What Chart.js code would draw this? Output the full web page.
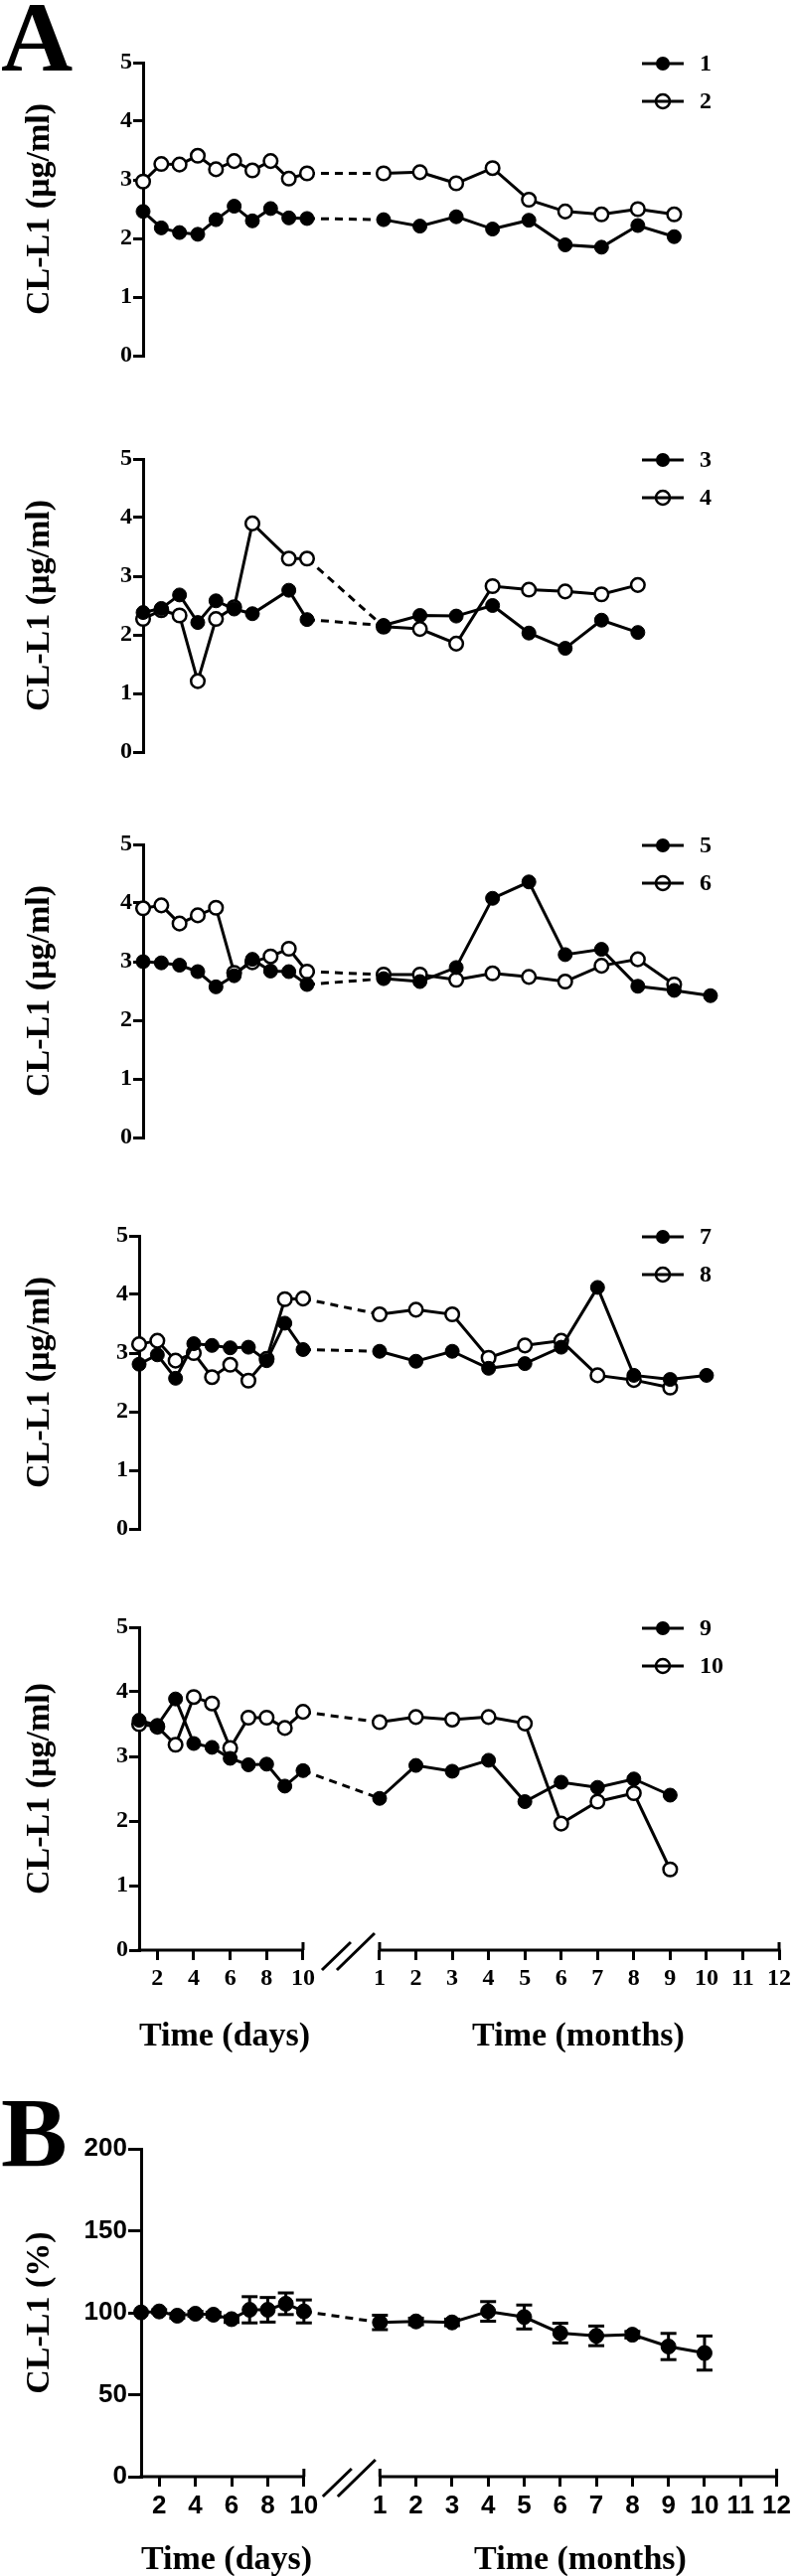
<!DOCTYPE html>
<html>
<head>
<meta charset="utf-8">
<script src="https://cdn.jsdelivr.net/npm/chart.js@4.4.1/dist/chart.umd.min.js"></script>
<style>
  html, body { margin: 0; padding: 0; background: #fff; }
  #wrap { position: relative; width: 800px; height: 2593px; overflow: hidden; }
  #wrap canvas { position: absolute; left: 0; }
  .letter { position: absolute; left: 1px; font: bold 100px "Liberation Serif", serif; line-height: 1; }
</style>
</head>
<body>
<div id="wrap">
  <div class="letter" style="top:-12px">A</div>
  <div class="letter" style="top:2097px">B</div>
</div>
<script>
// time points
const DAYS = [1, 2, 3, 4, 5, 6, 7, 8, 9, 10];
const MONTHS = [1, 2, 3, 4, 5, 6, 7, 8, 9, 10];
const DAY_TICKS = [2, 4, 6, 8, 10];
const MONTH_TICKS = [1, 2, 3, 4, 5, 6, 7, 8, 9, 10, 11, 12];
const Y_TICKS_A = [0, 1, 2, 3, 4, 5];
const Y_TICKS_B = [0, 50, 100, 150, 200];

// panel A, CL-L1 (µg/ml) per sample; null = no measurement
const s1Days   = [2.46, 2.18, 2.10, 2.07, 2.32, 2.55, 2.30, 2.51, 2.35, 2.34];
const s1Months = [2.32, 2.21, 2.37, 2.16, 2.31, 1.89, 1.85, 2.22, 2.03, null];
const s2Days   = [2.97, 3.27, 3.26, 3.41, 3.18, 3.32, 3.16, 3.32, 3.02, 3.11];
const s2Months = [3.11, 3.13, 2.94, 3.20, 2.66, 2.46, 2.41, 2.50, 2.41, null];

const s3Days   = [2.38, 2.45, 2.68, 2.21, 2.58, 2.44, 2.36, null, 2.76, 2.26];
const s3Months = [2.16, 2.33, 2.32, 2.50, 2.03, 1.77, 2.25, 2.04, null, null];
const s4Days   = [2.27, 2.42, 2.33, 1.21, 2.27, 2.47, 3.90, null, 3.30, 3.30];
const s4Months = [2.14, 2.10, 1.85, 2.83, 2.77, 2.74, 2.69, 2.85, null, null];

const s5Days   = [3.00, 2.98, 2.94, 2.83, 2.57, 2.76, 3.04, 2.84, 2.83, 2.61];
const s5Months = [2.71, 2.66, 2.90, 4.08, 4.36, 3.12, 3.21, 2.58, 2.51, 2.42];
const s6Days   = [3.91, 3.96, 3.65, 3.79, 3.92, 2.81, 2.99, 3.09, 3.22, 2.83];
const s6Months = [2.78, 2.78, 2.69, 2.80, 2.74, 2.66, 2.93, 3.04, 2.61, null];

const s7Days   = [2.81, 2.97, 2.57, 3.16, 3.13, 3.09, 3.10, 2.87, 3.51, 3.06];
const s7Months = [3.03, 2.86, 3.03, 2.74, 2.82, 3.10, 4.12, 2.62, 2.55, 2.62];
const s8Days   = [3.15, 3.21, 2.87, 3.00, 2.59, 2.80, 2.53, 2.90, 3.92, 3.93];
const s8Months = [3.66, 3.74, 3.66, 2.92, 3.13, 3.21, 2.62, 2.54, 2.41, null];

const s9Days    = [3.56, 3.48, 3.89, 3.20, 3.14, 2.97, 2.87, 2.88, 2.54, 2.78];
const s9Months  = [2.35, 2.86, 2.77, 2.94, 2.30, 2.60, 2.52, 2.65, 2.40, null];
const s10Days   = [3.50, 3.46, 3.18, 3.92, 3.82, 3.13, 3.60, 3.60, 3.44, 3.69];
const s10Months = [3.53, 3.61, 3.57, 3.61, 3.51, 1.96, 2.30, 2.43, 1.25, null];

// panel B, CL-L1 (%) mean and error
const bDays      = [100.2, 100.8, 98.2, 99.4, 98.8, 96.1, 101.8, 101.8, 105.5, 100.8];
const bDaysErr   = [0, 1, 1.5, 1.5, 1.5, 2, 8, 7.5, 6.6, 7];
const bMonths    = [94.1, 94.7, 94.1, 100.8, 97.4, 87.6, 85.9, 86.6, 79.4, 75.4];
const bMonthsErr = [4.4, 2, 2, 6, 7.3, 6, 6, 2, 8, 10.4];

// broken x axis: days and months share one linear scale in pixel units
const DAY_PX = 18.33, MONTH0 = 242, MONTH_PX = 36.55;
const AX_MAX = MONTH0 + 11 * MONTH_PX;
const dayX = d => (d - 1) * DAY_PX;
const monthX = m => MONTH0 + (m - 1) * MONTH_PX;
const X_TICK_POS = DAY_TICKS.map(dayX).concat(MONTH_TICKS.map(monthX));
const X_TICK_LABELS = DAY_TICKS.concat(MONTH_TICKS).map(String);

const SERIF = '"Liberation Serif", "Times New Roman", serif';
const SANS = '"Liberation Sans Narrow", "Liberation Sans", Arial, sans-serif';

function pts(dayVals, monthVals) {
  const out = [];
  DAYS.forEach((d, i) => { if (dayVals[i] != null) out.push({x: dayX(d), y: dayVals[i]}); });
  MONTHS.forEach((m, i) => { if (monthVals[i] != null) out.push({x: monthX(m), y: monthVals[i]}); });
  return out;
}

const dashSeg = ctx => (ctx.p0.parsed.x < MONTH0 && ctx.p1.parsed.x >= MONTH0) ? [8, 6] : undefined;

function line(ctx, x1, y1, x2, y2) {
  ctx.beginPath(); ctx.moveTo(x1, y1); ctx.lineTo(x2, y2); ctx.stroke();
}

const decor = {
  id: 'decor',
  afterDatasetsDraw(chart, args, o) {
    if (!o.err) return;
    const {ctx} = chart;
    const x = chart.scales.x, y = chart.scales.y;
    ctx.save();
    ctx.strokeStyle = '#000'; ctx.lineWidth = 3;
    o.err.forEach(e => {
      if (e.e <= 0) return;
      const px = x.getPixelForValue(e.x);
      const lo = y.getPixelForValue(e.y - e.e), hi = y.getPixelForValue(e.y + e.e);
      line(ctx, px, lo, px, hi);
      line(ctx, px - 8, lo, px + 8, lo);
      line(ctx, px - 8, hi, px + 8, hi);
    });
    ctx.restore();
  },
  afterDraw(chart, args, o) {
    const {ctx, chartArea: ca} = chart;
    const x = chart.scales.x;
    ctx.save();
    ctx.fillStyle = '#000'; ctx.strokeStyle = '#000';

    // y title
    ctx.save();
    ctx.font = 'bold 34px ' + SERIF;
    ctx.translate(40, (ca.top + ca.bottom) / 2);
    ctx.rotate(-Math.PI / 2);
    ctx.textAlign = 'center'; ctx.textBaseline = 'middle';
    ctx.fillText(o.yTitle, 0, 0);
    ctx.restore();

    // legend
    if (o.legend) {
      o.legend.forEach((lab, i) => {
        const yy = ca.top + 1 + 38 * i;
        ctx.lineWidth = 3;
        line(ctx, 646, yy, 688, yy);
        ctx.beginPath(); ctx.arc(667, yy, 7, 0, Math.PI * 2);
        if (i === 0) { ctx.fill(); }
        else { ctx.lineWidth = 2.5; ctx.stroke(); }
        ctx.font = 'bold 24px ' + SERIF;
        ctx.textAlign = 'left'; ctx.textBaseline = 'middle';
        ctx.fillText(lab, 704, yy + 1);
      });
    }

    // broken x axis
    if (o.xAxis) {
      const ay = ca.bottom;
      const p = v => x.getPixelForValue(v);
      ctx.lineWidth = 3;
      line(ctx, ca.left - 1.5, ay, p(dayX(10)), ay);
      line(ctx, p(monthX(1)), ay, p(monthX(12)) + 1.5, ay);
      [dayX(10), monthX(1), monthX(12)].forEach(v => line(ctx, p(v), ay - 8, p(v), ay));
      const b = p(dayX(10));
      line(ctx, b + 19, ay + 20, b + 48, ay - 8);
      line(ctx, b + 34, ay + 20, b + 72, ay - 17);
      ctx.font = 'bold 34px ' + SERIF;
      ctx.textAlign = 'center'; ctx.textBaseline = 'alphabetic';
      ctx.fillText('Time (days)', ca.left + 86, ay + o.titleDy);
      ctx.fillText('Time (months)', ca.left + 442, ay + o.titleDy);
    }
    ctx.restore();
  }
};

function makePanel(p) {
  const cv = document.createElement('canvas');
  const padTop = 40;
  const bottom = p.xAxis ? 140 : 30;
  cv.width = 800;
  cv.height = padTop + p.h + bottom;
  cv.style.top = (p.top - padTop) + 'px';
  document.getElementById('wrap').appendChild(cv);

  // first series (filled) is drawn on top, as in the figure
  const datasets = p.series.map((s, i) => ({
    data: s,
    borderColor: '#000',
    borderWidth: 3,
    tension: 0,
    clip: false,
    pointRadius: i === 0 ? p.markR : 6.8,
    pointBorderWidth: i === 0 ? 1 : 2.5,
    pointBorderColor: '#000',
    pointBackgroundColor: i === 0 ? '#000' : '#fff',
    segment: {borderDash: dashSeg}
  }));

  new Chart(cv, {
    type: 'line',
    data: {datasets},
    plugins: [decor],
    options: {
      responsive: false,
      animation: false,
      devicePixelRatio: 1,
      layout: {autoPadding: false, padding: {top: padTop, left: 0, right: 800 - p.x0 - AX_MAX, bottom: p.xAxis ? 0 : bottom}},
      plugins: {
        legend: {display: false},
        tooltip: {enabled: false},
        decor: {yTitle: p.yTitle, legend: p.legend, xAxis: p.xAxis, titleDy: p.titleDy, err: p.err}
      },
      scales: {
        x: {
          type: 'linear', min: 0, max: AX_MAX,
          display: !!p.xAxis,
          afterBuildTicks: s => { s.ticks = X_TICK_POS.map(v => ({value: v})); },
          afterFit: s => { s.height = bottom; },
          border: {display: false},
          grid: {drawOnChartArea: false, drawTicks: true, tickLength: 10, lineWidth: 3, color: '#000', tickColor: '#000'},
          ticks: {autoSkip: false, maxRotation: 0, padding: 4, color: '#000',
                  font: {family: p.tickFont, weight: 'bold', size: p.tickSize},
                  callback: (v, i) => X_TICK_LABELS[i]}
        },
        y: {
          type: 'linear', min: 0, max: p.yMax,
          afterBuildTicks: s => { s.ticks = p.yTicks.map(v => ({value: v})); },
          afterFit: s => { s.width = p.x0; },
          border: {display: true, width: 3, color: '#000'},
          grid: {drawOnChartArea: false, drawTicks: true, tickLength: p.yTickLen, lineWidth: 3, color: '#000', tickColor: '#000'},
          ticks: {padding: 1, color: '#000', font: {family: p.tickFont, weight: 'bold', size: p.tickSize}}
        }
      }
    }
  });
}

const panelsA = [
  {top: 63.3,   x0: 144, legend: ['1', '2'],  series: [pts(s1Days, s1Months), pts(s2Days, s2Months)]},
  {top: 461.7,  x0: 144, legend: ['3', '4'],  series: [pts(s3Days, s3Months), pts(s4Days, s4Months)]},
  {top: 849.8,  x0: 144, legend: ['5', '6'],  series: [pts(s5Days, s5Months), pts(s6Days, s6Months)]},
  {top: 1244.2, x0: 140, legend: ['7', '8'],  series: [pts(s7Days, s7Months), pts(s8Days, s8Months)]},
  {top: 1638.3, x0: 140, legend: ['9', '10'], series: [pts(s9Days, s9Months), pts(s10Days, s10Months)], xAxis: true}
];
panelsA.forEach(p => makePanel(Object.assign({
  h: 325, yMax: 5, yTicks: Y_TICKS_A, yTitle: 'CL-L1 (µg/ml)', yTickLen: 10,
  tickFont: SERIF, tickSize: 24, titleDy: 96, markR: 7
}, p)));

const bErr = DAYS.map((d, i) => ({x: dayX(d), y: bDays[i], e: bDaysErr[i]}))
  .concat(MONTHS.map((m, i) => ({x: monthX(m), y: bMonths[i], e: bMonthsErr[i]})));

makePanel({
  top: 2163, h: 330, x0: 142, yMax: 200, yTicks: Y_TICKS_B, yTitle: 'CL-L1 (%)', yTickLen: 13,
  tickFont: SANS, tickSize: 26, titleDy: 93, xAxis: true, markR: 7.5,
  series: [pts(bDays, bMonths)], err: bErr
});
</script>
</body>
</html>
